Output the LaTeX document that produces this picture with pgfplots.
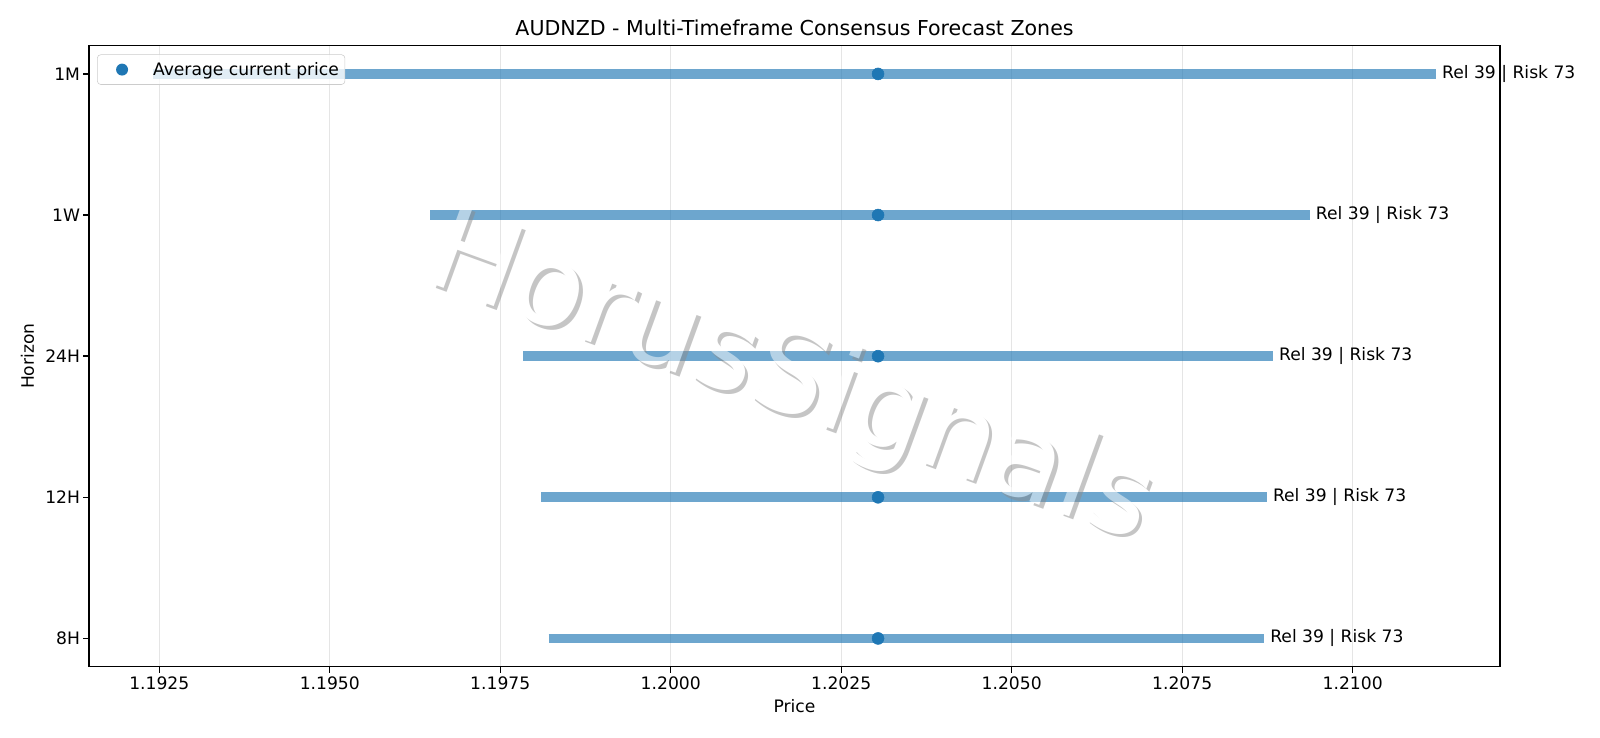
\documentclass[border=0pt]{standalone}
\usepackage{pgfplots}
\pgfplotsset{compat=1.18}
\usepackage{fontspec}
\setmainfont{DejaVu Sans}
\definecolor{tabblue}{HTML}{1F77B4}

\begin{document}
\begin{tikzpicture}
% page size: 1600 x 738 px at 0.72pt per px
\path[use as bounding box] (-64.1pt,-51.3pt) rectangle (1087.9pt,480pt);
\begin{axis}[
    at={(0,0)}, anchor=south west,
    scale only axis,
    width=1015.9pt, height=447.1pt,
    xmin=1.19147, xmax=1.21216,
    ymin=-0.2, ymax=4.2,
    xtick={1.1925,1.195,1.1975,1.2,1.2025,1.205,1.2075,1.21},
    xticklabels={1.1925,1.1950,1.1975,1.2000,1.2025,1.2050,1.2075,1.2100},
    ytick={0,1,2,3,4},
    yticklabels={8H,12H,24H,1W,1M},
    xmajorgrids,
    major grid style={black!10, line width=1pt},
    tick align=outside, tick pos=left,
    major tick length=4.3pt,
    every tick/.style={black, line width=1pt},
    axis line style={line width=1pt},
    ticklabel style={font=\fontsize{12.35}{14}\selectfont},
    yticklabel style={inner xsep=2pt},
    xticklabel style={inner ysep=2.5pt},
    /pgf/number format/assume math mode=true,
    xlabel={Price}, ylabel={Horizon},
    label style={font=\fontsize{12.35}{14}\selectfont},
    xlabel style={at={(axis description cs:0.5,-0.0633)}, anchor=center},
    ylabel style={at={(axis description cs:-0.0436,0.5)}, anchor=center},
    title={AUDNZD - Multi-Timeframe Consensus Forecast Zones},
    title style={font=\fontsize{14.8}{17}\selectfont, at={(0.5,1)},
        anchor=base, yshift=1.7pt, inner sep=0pt},
    clip=false,
    legend style={
        at={(0.0057,0.986)}, anchor=north west,
        draw=black!20, rounded corners=2.5pt,
        fill=white, fill opacity=0.8, text opacity=1,
        font=\fontsize{12.35}{14}\selectfont,
        inner xsep=4.3pt, inner ysep=3.8pt,
        column sep=0pt,
        nodes={inner xsep=0pt, inner ysep=1.5pt},
    },
    legend image code/.code={
        \path[draw=none] (0pt,0pt) -- (35.8pt,0pt);
        \path[draw=none, fill=tabblue, fill opacity=1] (13.5pt,0pt) circle[radius=4.3pt];
    },
]

% forecast zones (low, high)
\addplot[tabblue, opacity=0.65, line width=7pt, forget plot] coordinates {(1.19821,0) (1.20870,0)};
\addplot[tabblue, opacity=0.65, line width=7pt, forget plot] coordinates {(1.19810,1) (1.20874,1)};
\addplot[tabblue, opacity=0.65, line width=7pt, forget plot] coordinates {(1.19784,2) (1.20883,2)};
\addplot[tabblue, opacity=0.65, line width=7pt, forget plot] coordinates {(1.19647,3) (1.20937,3)};
\addplot[tabblue, opacity=0.65, line width=7pt, forget plot] coordinates {(1.19241,4) (1.21122,4)};

% average current price
\addplot[only marks, mark=*, mark size=4.3pt, tabblue] coordinates {
    (1.20304,0) (1.20304,1) (1.20304,2) (1.20304,3) (1.20304,4)
};
\addlegendentry{Average current price}

\node[anchor=west, inner sep=0pt, xshift=4.3pt, font=\fontsize{12.35}{14}\selectfont]
    at (axis cs:1.20870,0) {Rel 39 | Risk 73};
\node[anchor=west, inner sep=0pt, xshift=4.3pt, font=\fontsize{12.35}{14}\selectfont]
    at (axis cs:1.20874,1) {Rel 39 | Risk 73};
\node[anchor=west, inner sep=0pt, xshift=4.3pt, font=\fontsize{12.35}{14}\selectfont]
    at (axis cs:1.20883,2) {Rel 39 | Risk 73};
\node[anchor=west, inner sep=0pt, xshift=4.3pt, font=\fontsize{12.35}{14}\selectfont]
    at (axis cs:1.20937,3) {Rel 39 | Risk 73};
\node[anchor=west, inner sep=0pt, xshift=4.3pt, font=\fontsize{12.35}{14}\selectfont]
    at (axis cs:1.21122,4) {Rel 39 | Risk 73};

% watermark: white text over a grey shadow, the whole group half transparent
\begin{scope}[transparency group, opacity=0.5]
\node[rotate=-20, font=\fontsize{84}{84}\selectfont, text=black!45]
    at ([xshift=2.5pt,yshift=-2.5pt]axis cs:1.20176,1.827) {HorusSignals};
\node[rotate=-20, font=\fontsize{84}{84}\selectfont, text=white]
    at (axis cs:1.20176,1.827) {HorusSignals};
\end{scope}
\end{axis}
\end{tikzpicture}
\end{document}
